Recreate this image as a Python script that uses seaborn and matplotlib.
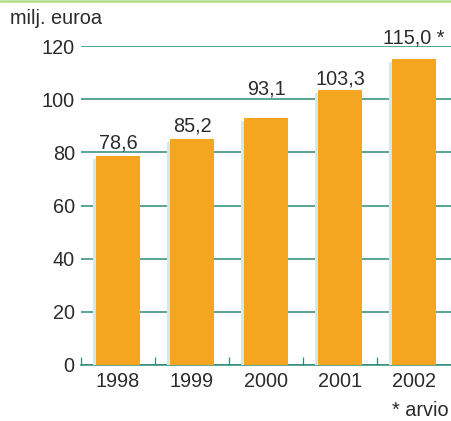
import matplotlib
matplotlib.use("Agg")
import matplotlib.pyplot as plt
import matplotlib.patheffects as pe
import seaborn as sns
import pandas as pd

# data
years = ["1998", "1999", "2000", "2001", "2002"]
values = [78.6, 85.2, 93.1, 103.3, 115.0]
value_labels = ["78,6", "85,2", "93,1", "103,3", "115,0 *"]
label_y = [81.4, 87.9, 101.6, 105.7, 121.1]
y_ticks = [0, 20, 40, 60, 80, 100, 120]

orange = "#F6A520"
teal = "#2E8B78"
shadow = "#D6E8E3"
text_col = "#2b2b2b"
fs = 14.3

sns.set_style("white")
plt.rcParams["font.family"] = ["Liberation Sans", "DejaVu Sans"]

df = pd.DataFrame({"year": years, "value": values})

fig = plt.figure(figsize=(4.51, 4.21), dpi=100)
ax = fig.add_axes([81 / 451, 1 - 365 / 421, 370 / 451, 319 / 421])

sns.barplot(data=df, x="year", y="value", color=orange, saturation=1,
            width=0.585, linewidth=0, edgecolor="none", ax=ax, zorder=3)
for p in ax.patches:
    p.set_path_effects([pe.SimplePatchShadow(offset=(-2.2, -2.2), shadow_rgbFace=shadow, alpha=1),
                        pe.Normal()])

for i, (lab, y) in enumerate(zip(value_labels, label_y)):
    ax.text(i, y, lab, ha="center", va="baseline", fontsize=fs,
            color=text_col, clip_on=False, zorder=5)

ax.set_xlim(-0.5, 4.5)
ax.set_ylim(0, 120)
ax.set_yticks(y_ticks)
ax.set_xlabel("")
ax.set_ylabel("")
ax.yaxis.grid(True, color=teal, linewidth=1.1)
ax.set_axisbelow(True)

for s in ["top", "right", "left"]:
    ax.spines[s].set_visible(False)
ax.spines["bottom"].set_color(teal)
ax.spines["bottom"].set_linewidth(1.1)

ax.tick_params(axis="y", length=0, pad=4.5, labelsize=fs, labelcolor=text_col)
ax.tick_params(axis="x", which="major", length=0, pad=5, labelsize=fs, labelcolor=text_col)
ax.set_xticks([-0.5, 0.5, 1.5, 2.5, 3.5], minor=True)
ax.tick_params(axis="x", which="minor", bottom=True, direction="in", length=5.8,
               width=0.9, color=teal)

fig.text(10 / 451, 1 - 18 / 421, "milj. euroa", ha="left", va="center",
         fontsize=fs, color=text_col)
fig.text(449 / 451, 1 - 410 / 421, "* arvio", ha="right", va="center",
         fontsize=fs, color=text_col)
fig.add_artist(plt.Line2D([0, 1], [1 - 1 / 421, 1 - 1 / 421], color="#B3DC8A",
                          linewidth=1.8, transform=fig.transFigure))

fig.savefig("out.png", dpi=100)
